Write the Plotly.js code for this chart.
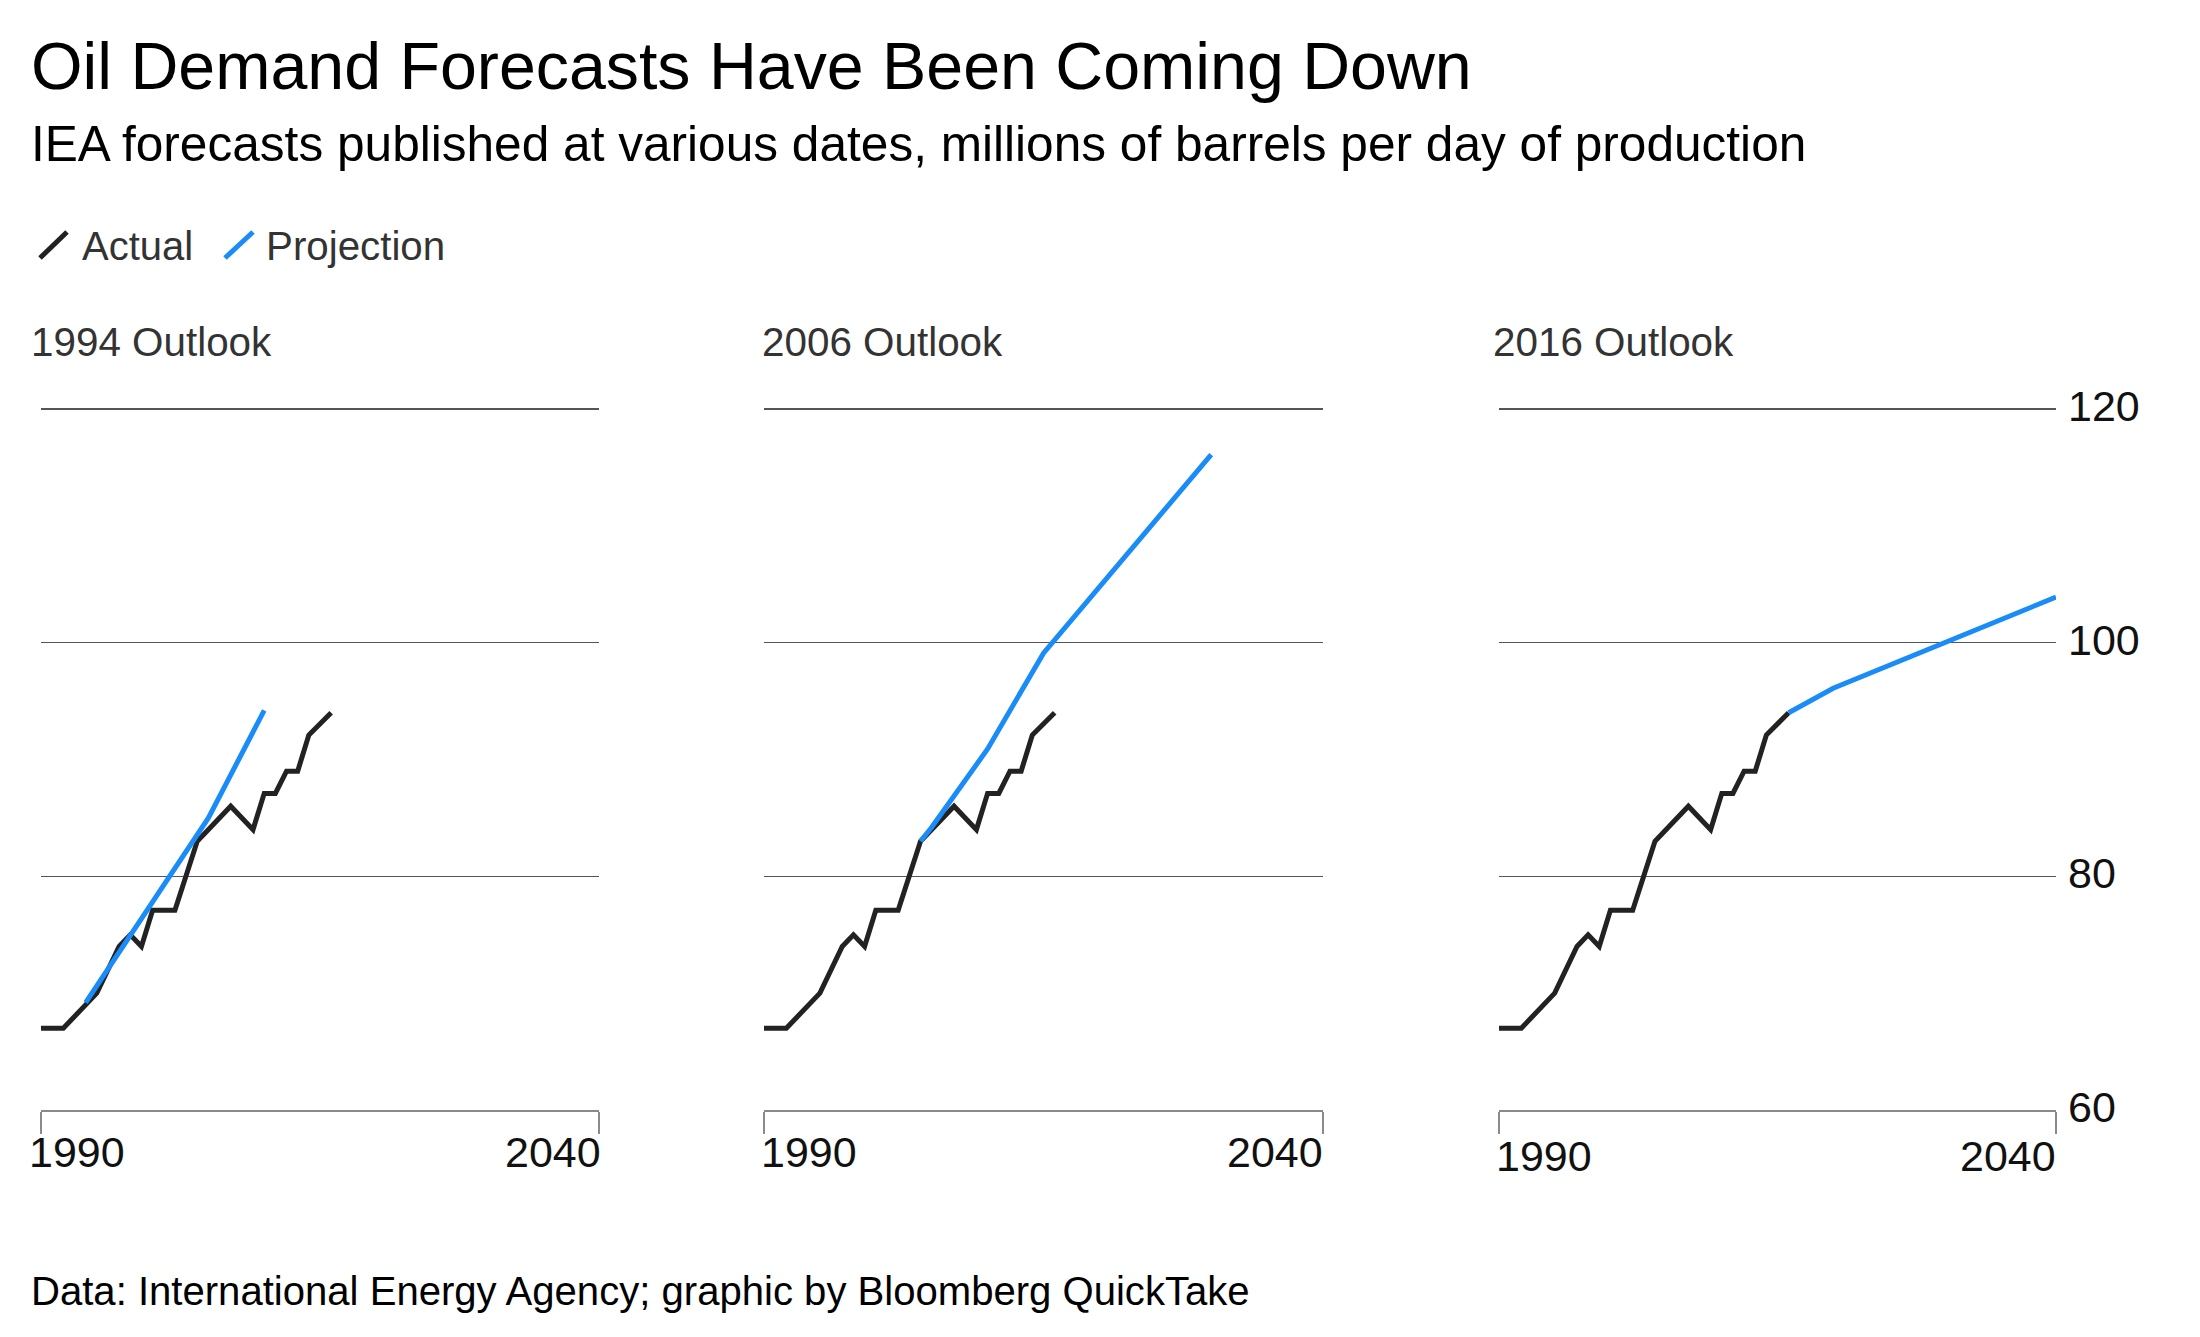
<!DOCTYPE html>
<html>
<head>
<meta charset="utf-8">
<script src="https://cdn.plot.ly/plotly-3.0.1.min.js"></script>
<style>html,body{margin:0;padding:0;background:#fff;}#chart{width:2200px;height:1337px;}</style>
</head>
<body>
<div id="chart"></div>
<script>
// ---- data ----
var actualYears  = [1990, 1992, 1995, 1997, 1998, 1999, 2000, 2002, 2004, 2007, 2009, 2010, 2011, 2012, 2013, 2014, 2016];
var actualValues = [67.0, 67.0, 70.0, 74.0, 75.0, 74.0, 77.1, 77.1, 83.0, 86.0, 84.0, 87.1, 87.1, 89.0, 89.0, 92.1, 94.0];

var proj1994Years  = [1994, 2000, 2005, 2010];
var proj1994Values = [69.2, 77.8, 85.0, 94.2];

var proj2006Years  = [2004, 2005, 2010, 2015, 2030];
var proj2006Values = [83.0, 84.2, 90.9, 99.1, 116.1];

var proj2016Years  = [2016, 2020, 2040];
var proj2016Values = [94.0, 96.1, 103.9];

var panelTitles = ["1994 Outlook", "2006 Outlook", "2016 Outlook"];
var xTickYears  = [1990, 2040];
var xTickLabels = ["1990", "2040"];
var yTickValues = [60, 80, 100, 120];
var yTickLabels = ["60", "80", "100", "120"];
var seriesNames = ["Actual", "Projection"];

// ---- styling / layout ----
var W = 2200, H = 1337;
var FONT = "Liberation Sans, Arial, Helvetica, sans-serif";
var BLACK = "#222222", BLUE = "#1a8cf8";
function px(x){ return x / W; }
function py(y){ return 1 - y / H; }

var projections = [[proj1994Years, proj1994Values], [proj2006Years, proj2006Values], [proj2016Years, proj2016Values]];
var xDomains = [[px(41), px(599)], [px(764), px(1323)], [px(1499), px(2056)]];
// y range slightly above 120 so the 120 gridline is drawn inside the plot
var yRange = [60, 120.3];
var yDomain = [py(1110), py(409 - 0.3 * (1110 - 409) / 60)];

var traces = [];
var layout = {
  width: W, height: H,
  margin: {l: 0, r: 0, t: 0, b: 0},
  paper_bgcolor: "#fff", plot_bgcolor: "#fff",
  showlegend: false,
  font: {family: FONT, color: "#000"},
  annotations: [], shapes: []
};

var leftShift = [-14, -5, -5];
var rightShift = [4, 2, 2];
var titleShift = [-12, -4, -8];
var xLabelShift = [-42, -42, -46];

for (var i = 0; i < 3; i++) {
  var sfx = i === 0 ? "" : String(i + 1);
  traces.push({
    x: actualYears, y: actualValues, xaxis: "x" + sfx, yaxis: "y" + sfx,
    type: "scatter", mode: "lines", name: seriesNames[0],
    line: {color: BLACK, width: 5}, hoverinfo: "skip"
  });
  traces.push({
    x: projections[i][0], y: projections[i][1], xaxis: "x" + sfx, yaxis: "y" + sfx,
    type: "scatter", mode: "lines", name: seriesNames[1],
    line: {color: BLUE, width: 5}, hoverinfo: "skip"
  });
  layout["xaxis" + sfx] = {
    domain: xDomains[i], anchor: "y" + sfx, range: [1990, 2040],
    showgrid: false, zeroline: false,
    showline: true, linecolor: "#8a8a8a", linewidth: 2,
    ticks: "outside", tickvals: xTickYears, ticklen: 22, tickwidth: 2, tickcolor: "#8a8a8a",
    showticklabels: false, fixedrange: true
  };
  layout["yaxis" + sfx] = {
    domain: yDomain, anchor: "x" + sfx, range: yRange,
    tickvals: yTickValues, ticktext: yTickLabels,
    showgrid: true, gridcolor: "#555555", gridwidth: 1.5,
    zeroline: false, showline: false, ticks: "",
    showticklabels: i === 2, side: "right",
    ticklabelstandoff: 11, ticklabelshift: -3,
    tickfont: {family: FONT, size: 43, color: "#111"},
    fixedrange: true
  };
  // x tick labels, placed with the axis scale
  layout.annotations.push({
    xref: "x" + sfx, yref: "y" + sfx + " domain", x: xTickYears[0], y: 0,
    xanchor: "left", yanchor: "middle", yshift: xLabelShift[i], xshift: leftShift[i],
    text: xTickLabels[0], showarrow: false, font: {family: FONT, size: 43, color: "#111"}
  });
  layout.annotations.push({
    xref: "x" + sfx, yref: "y" + sfx + " domain", x: xTickYears[1], y: 0,
    xanchor: "right", yanchor: "middle", yshift: xLabelShift[i], xshift: rightShift[i],
    text: xTickLabels[1], showarrow: false, font: {family: FONT, size: 43, color: "#111"}
  });
  // panel title
  layout.annotations.push({
    xref: "x" + sfx + " domain", yref: "paper", x: 0, y: py(342),
    xanchor: "left", yanchor: "middle", xshift: titleShift[i],
    text: panelTitles[i], showarrow: false, font: {family: FONT, size: 40.4, color: "#333"}
  });
}

// title, subtitle, source
layout.annotations.push({
  xref: "paper", yref: "paper", x: px(29), y: py(66), xanchor: "left", yanchor: "middle",
  text: "Oil Demand Forecasts Have Been Coming Down", showarrow: false,
  font: {family: FONT, size: 66.3, color: "#000"}
});
layout.annotations.push({
  xref: "paper", yref: "paper", x: px(29), y: py(144), xanchor: "left", yanchor: "middle",
  text: "IEA forecasts published at various dates, millions of barrels per day of production", showarrow: false,
  font: {family: FONT, size: 49.6, color: "#000"}
});
layout.annotations.push({
  xref: "paper", yref: "paper", x: px(29), y: py(1291), xanchor: "left", yanchor: "middle",
  text: "Data: International Energy Agency; graphic by Bloomberg QuickTake", showarrow: false,
  font: {family: FONT, size: 40.1, color: "#000"}
});

// legend: slash glyphs + labels
layout.shapes.push({type: "line", xref: "paper", yref: "paper", x0: px(40), y0: py(258), x1: px(67), y1: py(232), line: {color: BLACK, width: 5}});
layout.shapes.push({type: "line", xref: "paper", yref: "paper", x0: px(225), y0: py(258), x1: px(253), y1: py(232), line: {color: BLUE, width: 5}});
layout.annotations.push({
  xref: "paper", yref: "paper", x: px(80), y: py(246), xanchor: "left", yanchor: "middle",
  text: seriesNames[0], showarrow: false, font: {family: FONT, size: 40, color: "#333"}
});
layout.annotations.push({
  xref: "paper", yref: "paper", x: px(264), y: py(246), xanchor: "left", yanchor: "middle",
  text: seriesNames[1], showarrow: false, font: {family: FONT, size: 40.3, color: "#333"}
});

Plotly.newPlot("chart", traces, layout, {displayModeBar: false, staticPlot: true});
</script>
</body>
</html>
